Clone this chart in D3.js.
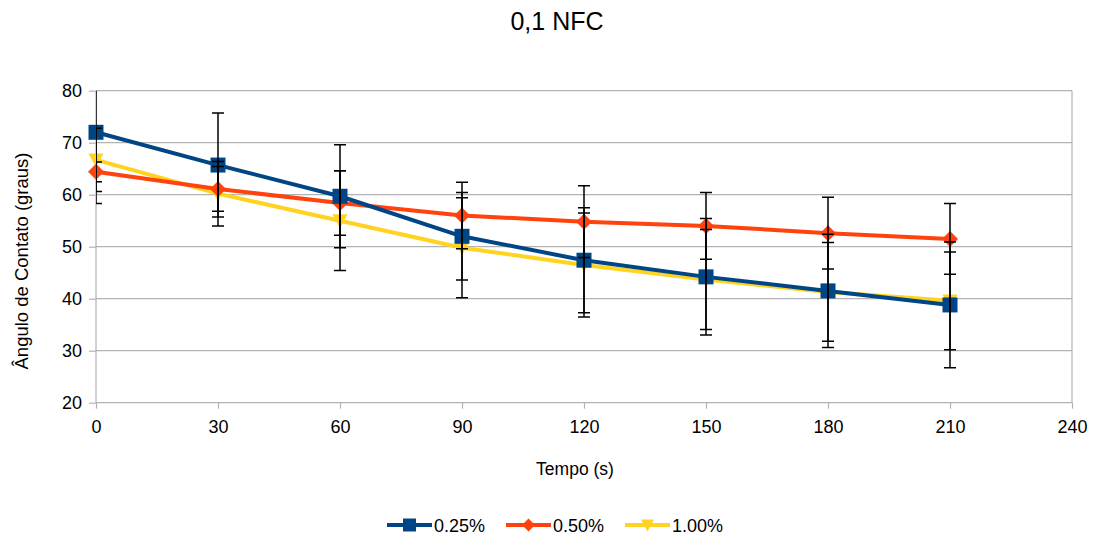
<!DOCTYPE html>
<html>
<head>
<meta charset="utf-8">
<script src="https://cdn.jsdelivr.net/npm/d3@7"></script>
<style>
    body { margin: 0; background: #fff; }
    svg { font-family: "Liberation Sans", Arial, sans-serif; }
</style>
</head>
<body>
<svg width="1096" height="540"></svg>
<script>
"use strict";

// times (s)
var times = [0, 30, 60, 90, 120, 150, 180, 210];
// means and error (+/-) per concentration
var mean025 = [72.0, 65.7, 59.7, 52.0, 47.4, 44.2, 41.5, 38.8];
var err025 = [13.7, 10.0, 9.9, 8.4, 10.1, 11.2, 10.9, 12.1];
var mean050 = [64.4, 61.1, 58.4, 56.0, 54.8, 54.0, 52.6, 51.5];
var err050 = [1.9, 4.3, 6.2, 6.4, 6.9, 6.4, 6.9, 6.8];
var mean100 = [66.7, 60.2, 55.0, 49.8, 46.5, 43.7, 41.3, 39.6];
var err100 = [6.1, 6.2, 9.6, 9.6, 10.0, 9.6, 9.5, 9.4];
var seriesNames = ["0.25%", "0.50%", "1.00%"];
var xTicks = [0, 30, 60, 90, 120, 150, 180, 210, 240];
var yTicks = [20, 30, 40, 50, 60, 70, 80];

var colors = {
    "0.25%": "#004586",
    "0.50%": "#ff420e",
    "1.00%": "#ffd320"
};
var margin = {
    top: 90.7, // px
    left: 96, // px
    bottom: 137.3, // px
    right: 24 // px
};
var width = 1096 - margin.left - margin.right;
var height = 540 - margin.top - margin.bottom;

var svg = d3.select("svg");

var xScale = d3.scaleLinear().domain([0, 240]).range([0, width]);
var yScale = d3.scaleLinear().domain([20, 80]).range([height, 0]);

var makeSeries = function (name, means, errs) {
    return {
        name: name,
        points: times.map(function (t, i) {
            return {t: t, v: means[i], e: errs[i]};
        })
    };
};
var series = [
    makeSeries(seriesNames[0], mean025, err025),
    makeSeries(seriesNames[1], mean050, err050),
    makeSeries(seriesNames[2], mean100, err100)
];

// marker shapes
var markerPath = function (name, s) {
    if (name === "0.25%") {
        return "M" + (-s) + "," + (-s) + "H" + s + "V" + s + "H" + (-s) + "Z";
    }
    if (name === "0.50%") {
        return "M0," + (-s) + "L" + s + ",0L0," + s + "L" + (-s) + ",0Z";
    }
    return "M" + (-s) + "," + (-s * 0.85) + "H" + s + "L0," + s + "Z";
};

svg.append("defs").append("clipPath").attr("id", "plotClip")
    .append("rect").attr("width", width).attr("height", height);

var main = svg.append("g")
    .attr("transform", "translate(" + margin.left + "," + margin.top + ")");

// gridlines
main.append("g").selectAll("line").data(yTicks).join("line")
    .attr("x1", 0).attr("x2", width)
    .attr("y1", function (d) { return yScale(d); })
    .attr("y2", function (d) { return yScale(d); })
    .attr("stroke", "#b3b3b3").attr("stroke-width", 1.2);

// frame: left and right
main.append("line").attr("x1", 0).attr("x2", 0).attr("y1", 0)
    .attr("y2", height).attr("stroke", "#b3b3b3").attr("stroke-width", 1.2);
main.append("line").attr("x1", width).attr("x2", width).attr("y1", 0)
    .attr("y2", height).attr("stroke", "#b3b3b3").attr("stroke-width", 1.2);

// axes
var xAxis = d3.axisBottom(xScale).tickValues(xTicks).tickSize(6)
    .tickPadding(12).tickFormat(d3.format("d"));
var yAxis = d3.axisLeft(yScale).tickValues(yTicks).tickSize(7)
    .tickPadding(7).tickFormat(d3.format("d"));

var xAxisGroup = main.append("g")
    .attr("transform", "translate(0," + height + ")").call(xAxis);
var yAxisGroup = main.append("g").call(yAxis);
[xAxisGroup, yAxisGroup].forEach(function (g) {
    g.select(".domain").remove();
    g.selectAll(".tick line").attr("stroke", "#b3b3b3")
        .attr("stroke-width", 1.2);
    g.selectAll(".tick text").attr("fill", "#000")
        .style("font-size", "18px");
});

// lines and markers (yellow, red, blue order)
var line = d3.line()
    .x(function (d) { return xScale(d.t); })
    .y(function (d) { return yScale(d.v); });

var drawOrder = [series[2], series[1], series[0]];
var plot = main.append("g");
drawOrder.forEach(function (s) {
    plot.append("path")
        .datum(s.points)
        .attr("fill", "none")
        .attr("stroke", colors[s.name])
        .attr("stroke-width", 4)
        .attr("stroke-linejoin", "round")
        .attr("d", line);
    plot.selectAll(null).data(s.points).join("path")
        .attr("transform", function (d) {
            return "translate(" + xScale(d.t) + "," + yScale(d.v) + ")";
        })
        .attr("d", markerPath(s.name, s.name === "0.50%" ? 8 : 7.5))
        .attr("fill", colors[s.name]);
});

// error bars on top, clipped to the plot area
var bars = main.append("g").attr("clip-path", "url(#plotClip)");
series.forEach(function (s) {
    var g = bars.append("g").attr("stroke", "#000")
        .attr("stroke-width", 1.5);
    g.selectAll(null).data(s.points).join("line")
        .attr("x1", function (d) { return xScale(d.t); })
        .attr("x2", function (d) { return xScale(d.t); })
        .attr("y1", function (d) { return yScale(d.v + d.e); })
        .attr("y2", function (d) { return yScale(d.v - d.e); });
    [1, -1].forEach(function (sign) {
        g.selectAll(null).data(s.points).join("line")
            .attr("x1", function (d) { return xScale(d.t) - 6; })
            .attr("x2", function (d) { return xScale(d.t) + 6; })
            .attr("y1", function (d) { return yScale(d.v + sign * d.e); })
            .attr("y2", function (d) { return yScale(d.v + sign * d.e); });
    });
});

// titles
svg.append("text").attr("x", 557).attr("y", 30)
    .attr("text-anchor", "middle").style("font-size", "25px")
    .attr("fill", "#000").text("0,1 NFC");
svg.append("text").attr("x", 575).attr("y", 475)
    .attr("text-anchor", "middle").style("font-size", "17.5px")
    .attr("fill", "#000").text("Tempo (s)");
svg.append("text")
    .attr("transform", "translate(27.5,261) rotate(-90)")
    .attr("text-anchor", "middle").style("font-size", "18.5px")
    .attr("fill", "#000").text("Ângulo de Contato (graus)");

// legend
var legendX = [387, 506, 625];
var legend = svg.append("g");
series.forEach(function (s, i) {
    var g = legend.append("g")
        .attr("transform", "translate(" + legendX[i] + ",525)");
    g.append("line").attr("x1", 0).attr("x2", 45)
        .attr("stroke", colors[s.name]).attr("stroke-width", 4);
    g.append("path").attr("transform", "translate(22.5,0)")
        .attr("d", markerPath(s.name, 6.5)).attr("fill", colors[s.name]);
    g.append("text").attr("x", 47).attr("y", 6.5)
        .style("font-size", "18px").attr("fill", "#000").text(s.name);
});
</script>
</body>
</html>
